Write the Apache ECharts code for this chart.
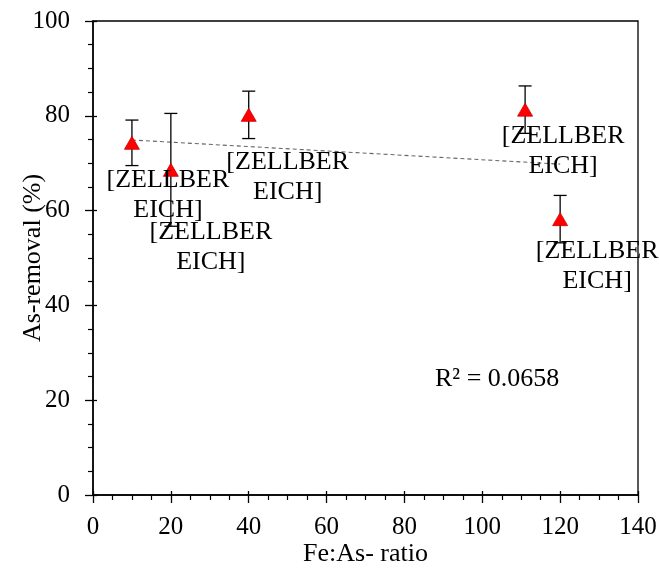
<!DOCTYPE html>
<html>
<head>
<meta charset="utf-8">
<script src="https://cdn.jsdelivr.net/npm/echarts@6/dist/echarts.min.js"></script>
<style>
  html, body { margin: 0; padding: 0; background: #fff; }
  #root { width: 659px; height: 570px; }
</style>
</head>
<body>
<div id="root"></div>
<script>
// values
const ratio = [10, 20, 40, 111, 120];
const removal = [74.3, 68.6, 80.2, 81.3, 58.2];
const errorBar = [4.8, 11.9, 5.0, 5.0, 5.0];
const pointLabel = "[ZELLBER\nEICH]";
const trendX = [10, 120];
const trendY = [74.9, 69.8];
const rSquared = "R² = 0.0658";
const xName = "Fe:As- ratio";
const yName = "As-removal (%)";

// where Excel left each data label (px, from the default spot under the marker)
const labelShift = [[36, 10], [40, 35], [39, 20], [38, 0], [37, 5]];

const FONT = "Liberation Serif";
const FS = 26;

const chart = echarts.init(document.getElementById("root"));

const points = ratio.map((x, i) => ({
  value: [x, removal[i]],
  label: { offset: labelShift[i] }
}));
const bars = ratio.map((x, i) => [x, removal[i] - errorBar[i], removal[i] + errorBar[i]]);

const axisText = { color: "#000", fontFamily: FONT, fontSize: FS };
const tickText = { color: "#000", fontFamily: FONT, fontSize: 25 };

chart.setOption({
  animation: false,
  grid: {
    left: 93, right: 21, top: 21, bottom: 75,
    outerBoundsMode: "none",
    containLabel: false,
    show: true, borderColor: "#000", borderWidth: 1.3
  },
  xAxis: [{
    type: "value", min: 0, max: 140, interval: 20,
    name: xName, nameLocation: "middle", nameGap: 46,
    nameMoveOverlap: false,
    nameTextStyle: axisText,
    axisLine: { show: true, lineStyle: { color: "#000", width: 1.5 } },
    axisTick: { show: true, length: 8, lineStyle: { color: "#000", width: 1.3 } },
    minorTick: { show: true, splitNumber: 4, length: 5, lineStyle: { color: "#000", width: 1.2 } },
    axisLabel: Object.assign({ margin: 20 }, tickText),
    splitLine: { show: false }
  }, {
    type: "value", min: 0, max: 140, interval: 20, position: "bottom",
    axisLine: { show: false },
    axisTick: { show: true, inside: true, length: 4, lineStyle: { color: "#000", width: 1.3 } },
    axisLabel: { show: false },
    splitLine: { show: false }
  }],
  yAxis: [{
    type: "value", min: 0, max: 100, interval: 20,
    name: yName, nameLocation: "middle", nameGap: 47,
    nameMoveOverlap: false,
    nameTextStyle: axisText,
    axisLine: { show: true, lineStyle: { color: "#000", width: 1.5 } },
    axisTick: { show: true, length: 8, lineStyle: { color: "#000", width: 1.3 } },
    minorTick: { show: true, splitNumber: 4, length: 5, lineStyle: { color: "#000", width: 1.2 } },
    axisLabel: Object.assign({ margin: 23 }, tickText),
    splitLine: { show: false }
  }, {
    type: "value", min: 0, max: 100, interval: 20, position: "left",
    axisLine: { show: false },
    axisTick: { show: true, inside: true, length: 4, lineStyle: { color: "#000", width: 1.3 } },
    axisLabel: { show: false },
    splitLine: { show: false }
  }],
  series: [
    {
      type: "line",
      data: trendX.map((x, i) => [x, trendY[i]]),
      symbol: "none",
      lineStyle: { color: "#666", width: 1.1, type: [4, 3] },
      z: 1
    },
    {
      type: "custom",
      data: bars,
      z: 2,
      renderItem: function (params, api) {
        const x = api.value(0);
        const lo = api.coord([x, api.value(1)]);
        const hi = api.coord([x, api.value(2)]);
        const w = 6.5;
        const st = { stroke: "#000", lineWidth: 1.3 };
        return {
          type: "group",
          children: [
            { type: "line", shape: { x1: hi[0], y1: hi[1], x2: lo[0], y2: lo[1] }, style: st },
            { type: "line", shape: { x1: hi[0] - w, y1: hi[1], x2: hi[0] + w, y2: hi[1] }, style: st },
            { type: "line", shape: { x1: lo[0] - w, y1: lo[1], x2: lo[0] + w, y2: lo[1] }, style: st }
          ]
        };
      }
    },
    {
      type: "scatter",
      data: points,
      symbol: "triangle",
      symbolSize: [15, 13],
      itemStyle: { color: "#ff0000", borderColor: "#d00000", borderWidth: 0.8, opacity: 1 },
      z: 3,
      label: {
        show: true,
        position: "bottom",
        distance: 5,
        formatter: pointLabel,
        color: "#000",
        opacity: 1,
        fontFamily: FONT,
        fontSize: FS,
        lineHeight: 30,
        align: "center"
      }
    }
  ],
  graphic: [{
    type: "text",
    left: 435,
    top: 366,
    style: { text: rSquared, fill: "#000", font: FS + "px " + FONT }
  }]
});
</script>
</body>
</html>
